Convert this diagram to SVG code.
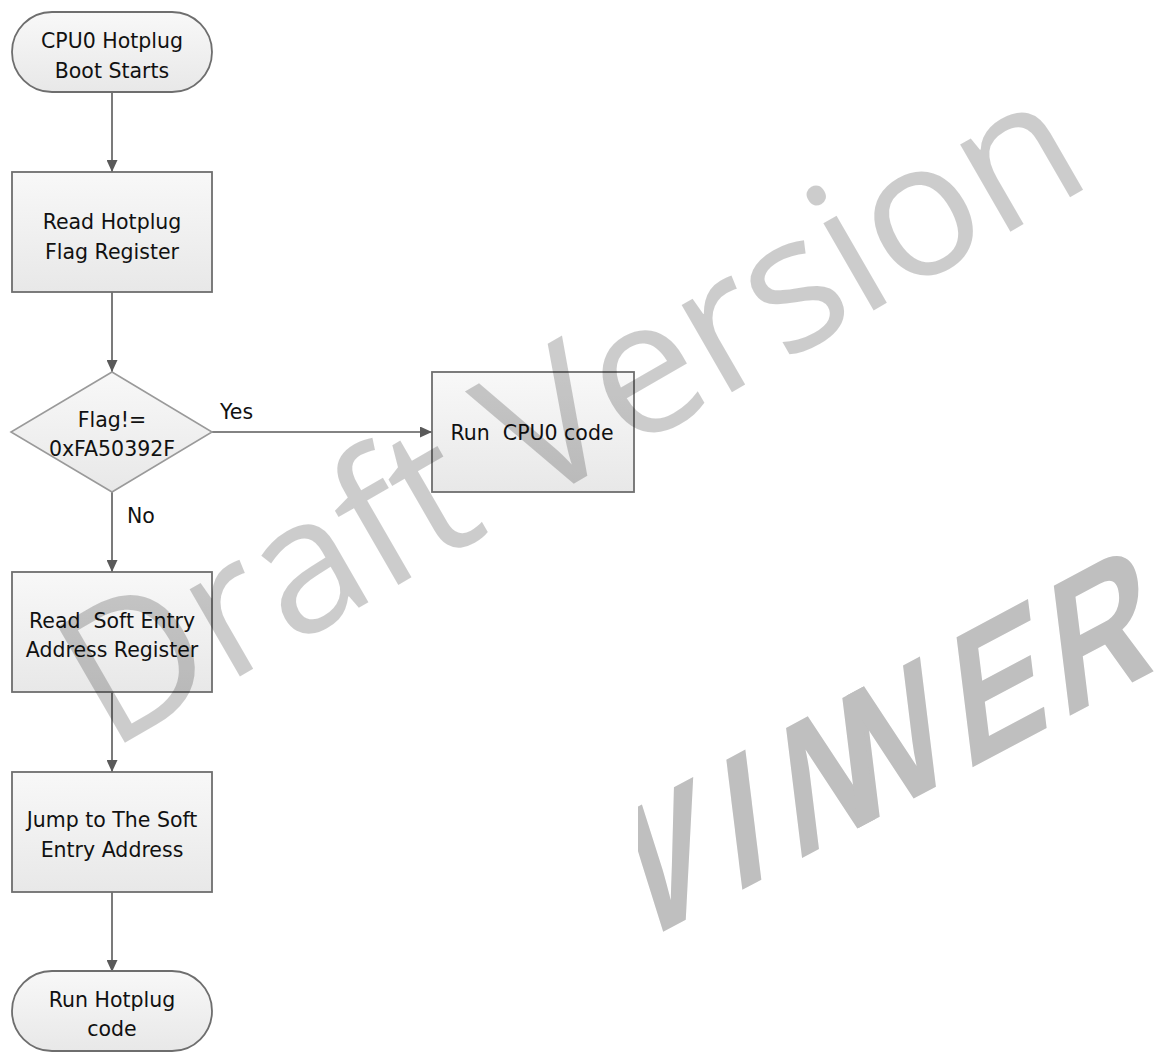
<svg xmlns="http://www.w3.org/2000/svg" width="1163" height="1053" viewBox="0 0 1163 1053">
<style>
.box{stroke:#6e6e6e;stroke-width:1.8;fill:url(#g)}
.dia{stroke:#9a9a9a;stroke-width:1.6;fill:url(#g)}
.t{font-family:"DejaVu Sans","Liberation Sans",sans-serif;font-size:20.5px;fill:#111;text-anchor:middle}
.lbl{font-family:"DejaVu Sans","Liberation Sans",sans-serif;font-size:20.5px;fill:#111}
.c{stroke:#5a5a5a;stroke-width:1.6;fill:none;marker-end:url(#a)}
.wm{font-family:"Open Sans","Noto Sans",sans-serif;font-size:188px;fill:#000;fill-opacity:0.2}
.logo{font-family:"Liberation Sans",Arial,sans-serif;font-weight:bold;font-size:178px;fill:#bfbfbf}
</style>
<defs>
<linearGradient id="g" x1="0" y1="0" x2="0" y2="1">
<stop offset="0" stop-color="#f8f8f8"/>
<stop offset="1" stop-color="#e8e8e8"/>
</linearGradient>
<marker id="a" markerUnits="userSpaceOnUse" markerWidth="12" markerHeight="11" refX="12" refY="5.5" orient="auto">
<path d="M0,0 L12,5.5 L0,11 z" fill="#5a5a5a"/>
</marker>
<clipPath id="clipLogo"><rect x="638" y="0" width="525" height="1053"/></clipPath>
</defs>
<rect width="1163" height="1053" fill="#fff"/>
<g id="connectors">
<line class="c" x1="112" y1="92" x2="112" y2="172"/>
<line class="c" x1="112" y1="292" x2="112" y2="372"/>
<line class="c" x1="212" y1="432" x2="432" y2="432"/>
<line class="c" x1="112" y1="492" x2="112" y2="572"/>
<line class="c" x1="112" y1="692" x2="112" y2="772"/>
<line class="c" x1="112" y1="892" x2="112" y2="972"/>
<text class="lbl" x="220" y="419">Yes</text>
<text class="lbl" x="127" y="523">No</text>
</g>
<g id="start">
<rect class="box" x="12" y="12" width="200" height="80" rx="40" ry="40"/>
<text class="t" x="112" y="48">CPU0 Hotplug</text>
<text class="t" x="112" y="78">Boot Starts</text>
</g>
<g id="readFlag">
<rect class="box" x="12" y="172" width="200" height="120"/>
<text class="t" x="112" y="229">Read Hotplug</text>
<text class="t" x="112" y="259">Flag Register</text>
</g>
<g id="decision">
<polygon class="dia" points="112,372 212,432 112,492 11,432"/>
<text class="t" x="112" y="427">Flag!=</text>
<text class="t" x="112" y="456">0xFA50392F</text>
</g>
<g id="runCpu0">
<rect class="box" x="432" y="372" width="202" height="120"/>
<text class="t" x="532" y="440" xml:space="preserve">Run  CPU0 code</text>
</g>
<g id="readSoft">
<rect class="box" x="12" y="572" width="200" height="120"/>
<text class="t" x="112" y="628" xml:space="preserve">Read  Soft Entry</text>
<text class="t" x="112" y="657">Address Register</text>
</g>
<g id="jump">
<rect class="box" x="12" y="772" width="200" height="120"/>
<text class="t" x="112" y="827">Jump to The Soft</text>
<text class="t" x="112" y="857">Entry Address</text>
</g>
<g id="end">
<rect class="box" x="12" y="971" width="200" height="80" rx="40" ry="40"/>
<text class="t" x="112" y="1007">Run Hotplug</text>
<text class="t" x="112" y="1036">code</text>
</g>
<g id="watermark">
<text class="wm" transform="translate(109,752) rotate(-30)" x="0" y="0" textLength="1140">Draft Version</text>
<g clip-path="url(#clipLogo)">
<text class="logo" transform="translate(742,890) rotate(-28) skewX(-21) scale(0.84,1)" x="-212 -11.4 69 145 299 430" y="0">WINNER</text>
</g>
</g>
</svg>
